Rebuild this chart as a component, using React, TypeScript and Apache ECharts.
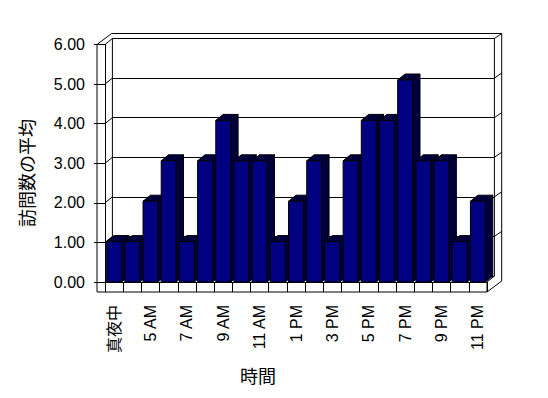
import React, { useEffect, useRef } from "react";
import * as echarts from "echarts";

const categories = ["真夜中", "4 AM", "5 AM", "6 AM", "7 AM", "8 AM", "9 AM", "10 AM", "11 AM", "12 PM", "1 PM", "2 PM", "3 PM", "4 PM", "5 PM", "6 PM", "7 PM", "8 PM", "9 PM", "10 PM", "11 PM"];
const values = [1, 1, 2, 3, 1, 3, 4, 3, 3, 1, 2, 3, 1, 3, 4, 4, 5, 3, 3, 1, 2];
const yMin = 0;
const yMax = 6;
const yInterval = 1;
const yTitle = "訪問数の平均";
const xTitle = "時間";

const FONT = "'Liberation Sans', 'Noto Sans CJK JP', sans-serif";
const DX = 7.4, DY = -6; // depth to back wall inner face
const TX = 7.3, TY = -5; // wall thickness
const WALL = 8; // left wall thickness
const FLOOR = 10; // floor thickness
const FRONT = "#000080";
const SHADE = "#00003c";

export default function App() {
  const ref = useRef<HTMLDivElement>(null);
  useEffect(() => {
    if (!ref.current) return;
    const chart = echarts.init(ref.current, null, { renderer: "svg" });
    const n = categories.length;
    const ln = { stroke: "#000", lineWidth: 1, fill: null } as any;

    const structure = (params: any, api: any) => {
      const A = api.coord([0, yMax]);
      const B = api.coord([n, yMin]);
      const ax = A[0], ay = A[1], bx = B[0], by = B[1];
      const segs: number[][][] = [
        [[ax - WALL, ay], [ax - WALL, by + FLOOR], [bx, by + FLOOR], [bx, by]],
        [[ax - WALL, ay], [ax, ay]],
        [[ax - WALL, ay], [ax - WALL + DX + TX, ay + DY + TY], [bx + DX + TX, ay + DY + TY], [bx + DX + TX, by + FLOOR + DY + TY]],
        [[ax, ay], [ax + DX, ay + DY], [bx + DX, ay + DY], [bx + DX + TX, ay + DY + TY]],
        [[bx + DX, ay + DY], [bx + DX, by + DY]],
        [[ax + DX, ay + DY], [ax + DX, by + DY]],
        [[bx, by + FLOOR], [bx + DX + TX, by + FLOOR + DY + TY]],
        [[bx, by], [bx + DX, by + DY]],
      ];
      for (let v = yMin + yInterval; v < yMax; v += yInterval) {
        const p = api.coord([0, v]);
        segs.push([[ax, p[1]], [ax + DX, p[1] + DY]]);
        segs.push([[bx + DX, p[1] + DY], [bx + DX + TX, p[1] + DY + TY]]);
      }
      return {
        type: "group",
        children: segs.map((s) => ({ type: "polyline", shape: { points: s }, style: ln, silent: true })),
      };
    };

    const bars = (params: any, api: any) => {
      const i = api.value(0);
      const v = api.value(1);
      const top = api.coord([i, v]);
      const base = api.coord([i, 0]);
      const bw = api.size([1, 0])[0] * 0.82;
      const x = top[0] - bw / 2;
      const y = top[1];
      const b = base[1];
      return {
        type: "group",
        children: [
          { type: "polygon", shape: { points: [[x + bw, y], [x + bw + DX, y + DY], [x + bw + DX, b + DY], [x + bw, b]] }, style: { fill: SHADE, stroke: "#000", lineWidth: 1 } },
          { type: "polygon", shape: { points: [[x, y], [x + DX, y + DY], [x + bw + DX, y + DY], [x + bw, y]] }, style: { fill: SHADE, stroke: "#000", lineWidth: 1 } },
          { type: "rect", shape: { x, y, width: bw, height: b - y }, style: { fill: FRONT, stroke: "#000", lineWidth: 1 } },
        ],
      };
    };

    chart.setOption({
      animation: false,
      backgroundColor: "#fff",
      textStyle: { fontFamily: FONT, color: "#000" },
      grid: [
        { left: 105, right: 61, top: 39.6, bottom: 116 },
        { left: 105, right: 61, top: 44.5, bottom: 116 },
        { left: 112.4, right: 53.6, top: 38.5, bottom: 122 },
      ],
      xAxis: [
        {
          type: "category", gridIndex: 0, data: categories,
          axisLine: { show: true, lineStyle: { color: "#000", width: 1 } },
          axisTick: { show: true, interval: 0, length: FLOOR, lineStyle: { color: "#000" } },
          axisLabel: { interval: 1, rotate: 90, margin: 23, color: "#000", fontSize: 16, fontFamily: FONT },
        },
        { type: "value", gridIndex: 1, min: 0, max: n, show: false },
        { type: "value", gridIndex: 2, min: 0, max: 1, show: false },
      ],
      yAxis: [
        { type: "value", gridIndex: 0, min: yMin, max: yMax, interval: yInterval, show: false },
        {
          type: "value", gridIndex: 1, min: yMin, max: yMax, interval: yInterval,
          axisLine: { show: true, lineStyle: { color: "#000", width: 1 } },
          axisTick: { show: true, length: WALL + 3, lineStyle: { color: "#000" } },
          splitLine: { show: false },
          axisLabel: { margin: 20, color: "#000", fontSize: 16, fontFamily: FONT, formatter: (v: number) => v.toFixed(2) },
        },
        {
          type: "value", gridIndex: 2, min: yMin, max: yMax, interval: yInterval,
          axisLine: { show: false }, axisTick: { show: false }, axisLabel: { show: false },
          splitLine: { show: true, lineStyle: { color: "#000", width: 1 } },
        },
      ],
      series: [
        {
          type: "custom", xAxisIndex: 1, yAxisIndex: 1, data: [[0, 0]], renderItem: structure, clip: false, z: 1, silent: true,
        },
        {
          type: "custom", xAxisIndex: 0, yAxisIndex: 0, data: values.map((v, i) => [i, v]), renderItem: bars, clip: false, z: 2,
        },
      ],
      graphic: [
        { type: "text", x: 28, y: 173, rotation: Math.PI / 2, style: { text: yTitle, fontSize: 18, fontFamily: FONT, fill: "#000", align: "center", verticalAlign: "middle" } },
        { type: "text", x: 258, y: 377, style: { text: xTitle, fontSize: 18, fontFamily: FONT, fill: "#000", align: "center", verticalAlign: "middle" } },
      ],
    });
    return () => chart.dispose();
  }, []);
  return <div ref={ref} style={{ position: "fixed", left: 0, top: 0, width: 548, height: 398 }} />;
}
